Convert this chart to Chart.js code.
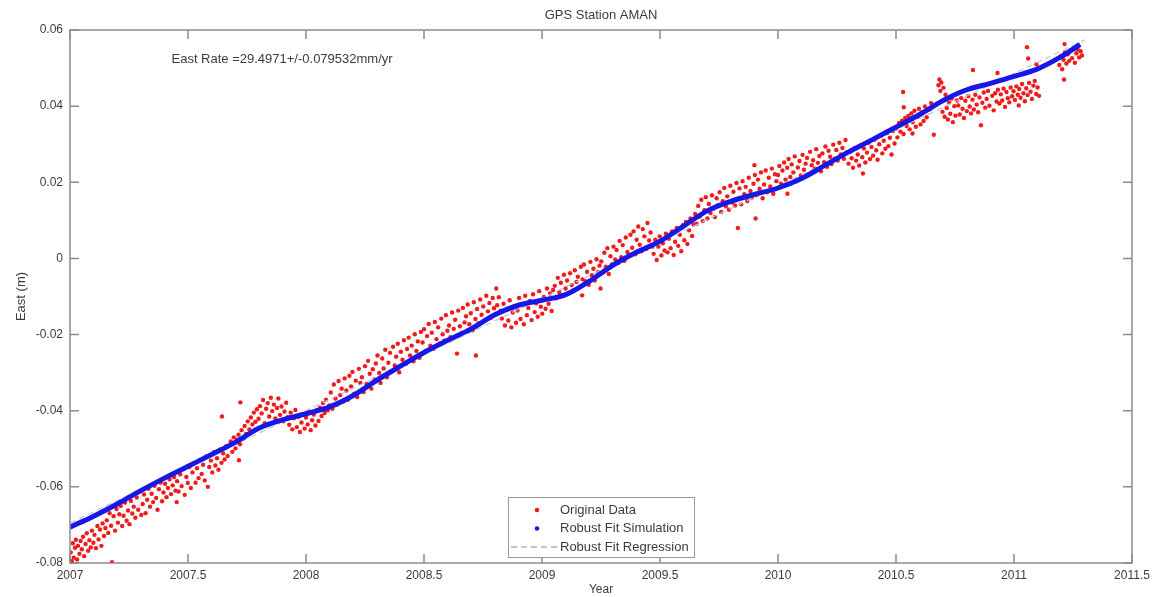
<!DOCTYPE html>
<html>
<head>
<meta charset="utf-8">
<title>GPS Station AMAN</title>
<script src="https://cdn.jsdelivr.net/npm/chart.js@4.4.1/dist/chart.umd.min.js"></script>
<style>
  html, body { margin: 0; padding: 0; background: #ffffff; }
  #wrap { width: 1152px; height: 597px; position: relative; }
</style>
</head>
<body>
<div id="wrap"><canvas id="eastChart"></canvas></div>
<script>
const chartTitle = "GPS Station AMAN";
const rateText = "East Rate =29.4971+/-0.079532mm/yr";
const seriesNames = ["Original Data", "Robust Fit Simulation", "Robust Fit Regression"];

const xTickValues = [2007, 2007.5, 2008, 2008.5, 2009, 2009.5, 2010, 2010.5, 2011, 2011.5];
const yTickValues = [-0.08, -0.06, -0.04, -0.02, 0, 0.02, 0.04, 0.06];

// observed east positions (year, metres)
const obsYear = [
  2007.003, 2007.008, 2007.012, 2007.016, 2007.021, 2007.025, 2007.030, 2007.034, 2007.040, 2007.045,
  2007.050, 2007.055, 2007.060, 2007.066, 2007.071, 2007.077, 2007.082, 2007.088, 2007.093, 2007.099,
  2007.104, 2007.110, 2007.116, 2007.121, 2007.127, 2007.133, 2007.138, 2007.144, 2007.150,

  2007.156, 2007.162, 2007.168, 2007.174, 2007.178, 2007.185, 2007.191, 2007.197, 2007.203, 2007.209,
  2007.215, 2007.221, 2007.227, 2007.233, 2007.240, 2007.246, 2007.252, 2007.258, 2007.264, 2007.270,
  2007.277, 2007.283, 2007.289, 2007.295, 2007.302, 2007.308, 2007.314, 2007.320, 2007.327, 2007.333,
  2007.339, 2007.346, 2007.352, 2007.358, 2007.365, 2007.371, 2007.377, 2007.384, 2007.390, 2007.396,
  2007.403, 2007.409, 2007.415, 2007.422, 2007.428, 2007.435, 2007.441, 2007.447, 2007.452,

  2007.454, 2007.460, 2007.467, 2007.473, 2007.480, 2007.486, 2007.493, 2007.499, 2007.506, 2007.512,
  2007.519, 2007.525, 2007.532, 2007.538, 2007.545, 2007.551, 2007.558, 2007.564, 2007.571, 2007.577,
  2007.584, 2007.590, 2007.597, 2007.603, 2007.610, 2007.616, 2007.623, 2007.629, 2007.636, 2007.642,
  2007.644, 2007.649, 2007.655, 2007.662, 2007.668, 2007.681, 2007.688, 2007.694, 2007.701, 2007.707,
  2007.714, 2007.716, 2007.720, 2007.722, 2007.727, 2007.733, 2007.740, 2007.746, 2007.753, 2007.760,
  2007.766, 2007.773, 2007.779, 2007.786, 2007.792,

  2007.799, 2007.805, 2007.812, 2007.818, 2007.825, 2007.831, 2007.838, 2007.844, 2007.851, 2007.857,
  2007.864, 2007.870, 2007.877, 2007.883, 2007.890, 2007.896, 2007.903, 2007.909, 2007.916, 2007.922,
  2007.929, 2007.935, 2007.942, 2007.948, 2007.955, 2007.961, 2007.968, 2007.974, 2007.981, 2007.987,
  2007.994, 2008.000, 2008.007, 2008.013, 2008.020, 2008.026, 2008.033, 2008.040, 2008.046, 2008.053,
  2008.059, 2008.066, 2008.072, 2008.079, 2008.085, 2008.092, 2008.098,

  2008.105, 2008.112, 2008.118, 2008.125, 2008.131, 2008.138, 2008.145, 2008.151, 2008.158, 2008.164,
  2008.171, 2008.178, 2008.184, 2008.191, 2008.197, 2008.204, 2008.211, 2008.217, 2008.224, 2008.230,
  2008.237, 2008.244, 2008.250, 2008.257, 2008.263, 2008.270, 2008.277, 2008.283, 2008.290, 2008.296,
  2008.303, 2008.310, 2008.316, 2008.323, 2008.329, 2008.336, 2008.343, 2008.349, 2008.356, 2008.362,
  2008.369, 2008.376, 2008.382, 2008.389, 2008.395, 2008.402, 2008.409, 2008.415, 2008.422, 2008.428,
  2008.435, 2008.441, 2008.448, 2008.455, 2008.461, 2008.468, 2008.474, 2008.481, 2008.487,

  2008.494, 2008.500, 2008.507, 2008.513, 2008.520, 2008.527, 2008.533, 2008.540, 2008.546, 2008.553,
  2008.560, 2008.566, 2008.573, 2008.579, 2008.586, 2008.593, 2008.599, 2008.606, 2008.612, 2008.619,
  2008.626, 2008.632, 2008.639, 2008.640, 2008.645, 2008.652, 2008.659, 2008.665, 2008.672, 2008.678,
  2008.685, 2008.692, 2008.698, 2008.705, 2008.711, 2008.718, 2008.720, 2008.725, 2008.731, 2008.738,
  2008.744, 2008.751, 2008.758, 2008.764, 2008.771, 2008.777, 2008.784, 2008.791, 2008.797, 2008.804,
  2008.806, 2008.810, 2008.817, 2008.824,

  2008.830, 2008.837, 2008.843, 2008.850, 2008.857, 2008.863, 2008.870, 2008.876, 2008.883, 2008.890,
  2008.896, 2008.903, 2008.909, 2008.916, 2008.923, 2008.929, 2008.936, 2008.942, 2008.949, 2008.956,
  2008.962, 2008.969, 2008.975, 2008.982, 2008.988, 2008.995, 2009.001, 2009.008, 2009.015, 2009.021,
  2009.028, 2009.034, 2009.041, 2009.047,

  2009.054, 2009.060, 2009.067, 2009.073, 2009.080, 2009.087, 2009.093, 2009.100, 2009.106, 2009.113,
  2009.119, 2009.126, 2009.132, 2009.139, 2009.146, 2009.152, 2009.159, 2009.165, 2009.170, 2009.172,
  2009.178, 2009.185, 2009.191, 2009.198, 2009.205, 2009.211, 2009.218, 2009.224, 2009.231, 2009.237,
  2009.244, 2009.248,

  2009.251, 2009.257, 2009.264, 2009.270, 2009.277, 2009.283, 2009.290, 2009.296, 2009.303, 2009.310,
  2009.316, 2009.323, 2009.329, 2009.336, 2009.342, 2009.349, 2009.355, 2009.362, 2009.369, 2009.375,
  2009.382, 2009.388, 2009.395, 2009.401, 2009.408, 2009.414, 2009.421, 2009.427, 2009.434, 2009.441,
  2009.447, 2009.454, 2009.460, 2009.467,

  2009.473, 2009.480, 2009.486, 2009.493, 2009.499, 2009.506, 2009.512, 2009.519, 2009.525, 2009.532,
  2009.538, 2009.545, 2009.551, 2009.558, 2009.564, 2009.571, 2009.577, 2009.584, 2009.590, 2009.597,
  2009.603, 2009.610, 2009.616, 2009.623, 2009.629, 2009.636, 2009.642, 2009.649,

  2009.655, 2009.662, 2009.668, 2009.675, 2009.681, 2009.688, 2009.694, 2009.701, 2009.707, 2009.714,
  2009.720, 2009.727, 2009.733, 2009.740, 2009.746, 2009.753, 2009.759, 2009.766, 2009.772, 2009.779,
  2009.785, 2009.792, 2009.798, 2009.805, 2009.811, 2009.818, 2009.824, 2009.830, 2009.831, 2009.837,
  2009.844, 2009.850, 2009.857, 2009.863, 2009.870, 2009.876, 2009.883, 2009.889, 2009.896, 2009.900,
  2009.902, 2009.905, 2009.909, 2009.915, 2009.922, 2009.928, 2009.935, 2009.941, 2009.948, 2009.954,
  2009.961, 2009.967, 2009.974, 2009.980, 2009.987, 2009.993,

  2010.000, 2010.006, 2010.013, 2010.019, 2010.026, 2010.032, 2010.039, 2010.040, 2010.045, 2010.052,
  2010.058, 2010.065, 2010.071, 2010.078, 2010.084, 2010.091, 2010.097, 2010.104, 2010.110, 2010.117,
  2010.123, 2010.130, 2010.136, 2010.143, 2010.149, 2010.156, 2010.162, 2010.169, 2010.175, 2010.182,
  2010.188, 2010.195, 2010.201, 2010.208, 2010.214, 2010.221, 2010.227, 2010.234, 2010.240, 2010.247,
  2010.253, 2010.260, 2010.266, 2010.273, 2010.279, 2010.286, 2010.292,

  2010.299, 2010.305, 2010.312, 2010.318, 2010.325, 2010.331, 2010.338, 2010.344, 2010.351, 2010.357,
  2010.360, 2010.364, 2010.370, 2010.377, 2010.383, 2010.390, 2010.396, 2010.403, 2010.409, 2010.416,
  2010.422, 2010.429, 2010.435, 2010.442, 2010.448, 2010.455, 2010.461, 2010.468, 2010.474, 2010.481,
  2010.487, 2010.494,

  2010.500, 2010.506, 2010.513, 2010.519, 2010.526, 2010.530, 2010.532, 2010.533, 2010.539, 2010.545,
  2010.552, 2010.558, 2010.565, 2010.570, 2010.571, 2010.578, 2010.584, 2010.591, 2010.597, 2010.604,
  2010.610, 2010.617, 2010.623, 2010.630, 2010.643, 2010.649, 2010.660,

  2010.680, 2010.684, 2010.688, 2010.692, 2010.697, 2010.701, 2010.706, 2010.710, 2010.715, 2010.720,
  2010.725, 2010.730, 2010.736, 2010.741, 2010.747, 2010.752, 2010.758,

  2010.764, 2010.770, 2010.776, 2010.782, 2010.788, 2010.794, 2010.800, 2010.806, 2010.812, 2010.818,
  2010.824, 2010.826, 2010.830, 2010.836, 2010.842, 2010.848, 2010.854, 2010.860, 2010.866, 2010.872,
  2010.878, 2010.884, 2010.890, 2010.896, 2010.908, 2010.914, 2010.920, 2010.926, 2010.930, 2010.932,
  2010.938, 2010.944, 2010.950, 2010.956, 2010.962, 2010.968, 2010.974, 2010.980, 2010.986, 2010.992,
  2010.998, 2011.004, 2011.010, 2011.016, 2011.020, 2011.022, 2011.028, 2011.034, 2011.040, 2011.046,
  2011.052, 2011.055, 2011.058, 2011.060, 2011.064, 2011.070, 2011.076, 2011.082, 2011.088, 2011.094,
  2011.095, 2011.100, 2011.106,

  2011.192, 2011.198, 2011.204, 2011.210, 2011.212, 2011.214, 2011.216, 2011.222, 2011.228, 2011.234,
  2011.240, 2011.246, 2011.252, 2011.258, 2011.264, 2011.270, 2011.276, 2011.282, 2011.288
];

const obsEast = [
  -0.0772, -0.0795, -0.0748, -0.0786, -0.0760, -0.0739, -0.0791, -0.0755, -0.0776, -0.0742,
  -0.0764, -0.0731, -0.0782, -0.0750, -0.0722, -0.0768, -0.0740, -0.0759, -0.0715, -0.0747,
  -0.0726, -0.0761, -0.0703, -0.0738, -0.0712, -0.0755, -0.0696, -0.0729, -0.0708,

  -0.0688, -0.0721, -0.0669, -0.0702, -0.0798, -0.0677, -0.0715, -0.0658, -0.0694, -0.0672,
  -0.0650, -0.0703, -0.0676, -0.0641, -0.0689, -0.0662, -0.0698, -0.0637, -0.0670, -0.0652,
  -0.0681, -0.0628, -0.0660, -0.0612, -0.0674, -0.0645, -0.0620, -0.0669, -0.0634, -0.0605,
  -0.0652, -0.0618, -0.0640, -0.0597, -0.0629, -0.0660, -0.0606, -0.0589, -0.0638, -0.0615,
  -0.0592, -0.0627, -0.0603, -0.0580, -0.0619, -0.0596, -0.0574, -0.0610, -0.0640,

  -0.0585, -0.0612, -0.0567, -0.0598, -0.0553, -0.0621, -0.0574, -0.0590, -0.0548, -0.0603,
  -0.0562, -0.0538, -0.0589, -0.0551, -0.0577, -0.0529, -0.0566, -0.0542, -0.0583, -0.0520,
  -0.0600, -0.0548, -0.0531, -0.0562, -0.0509, -0.0544, -0.0525, -0.0555, -0.0502, -0.0537,
  -0.0415, -0.0512, -0.0528, -0.0493, -0.0519, -0.0481, -0.0508, -0.0470, -0.0499, -0.0476,
  -0.0463, -0.0530, -0.0488, -0.0378, -0.0451, -0.0472, -0.0440, -0.0461, -0.0428, -0.0449,
  -0.0418, -0.0436, -0.0405, -0.0429, -0.0396,

  -0.0421, -0.0388, -0.0407, -0.0372, -0.0433, -0.0395, -0.0380, -0.0415, -0.0366, -0.0401,
  -0.0384, -0.0420, -0.0393, -0.0368, -0.0411, -0.0389, -0.0428, -0.0402, -0.0379, -0.0417,
  -0.0437, -0.0405, -0.0449, -0.0420, -0.0398, -0.0443, -0.0416, -0.0456, -0.0431, -0.0409,
  -0.0447, -0.0418, -0.0436, -0.0402, -0.0451, -0.0425, -0.0410, -0.0439, -0.0398, -0.0427,
  -0.0392, -0.0414, -0.0380, -0.0406, -0.0371, -0.0399, -0.0386,

  -0.0352, -0.0395, -0.0331, -0.0368, -0.0384, -0.0322, -0.0359, -0.0342, -0.0376, -0.0315,
  -0.0347, -0.0371, -0.0308, -0.0336, -0.0298, -0.0355, -0.0321, -0.0364, -0.0290, -0.0327,
  -0.0312, -0.0351, -0.0283, -0.0330, -0.0269, -0.0303, -0.0342, -0.0291, -0.0318, -0.0276,
  -0.0255, -0.0301, -0.0327, -0.0263, -0.0289, -0.0240, -0.0312, -0.0274, -0.0248, -0.0296,
  -0.0232, -0.0281, -0.0258, -0.0224, -0.0299, -0.0245, -0.0266, -0.0215, -0.0277, -0.0238,
  -0.0208, -0.0255, -0.0229, -0.0270, -0.0199, -0.0243, -0.0218, -0.0261, -0.0193,

  -0.0221, -0.0186, -0.0243, -0.0204, -0.0172, -0.0229, -0.0195, -0.0238, -0.0167, -0.0212,
  -0.0181, -0.0224, -0.0158, -0.0199, -0.0216, -0.0149, -0.0190, -0.0176, -0.0207, -0.0142,
  -0.0185, -0.0161, -0.0203, -0.0250, -0.0137, -0.0178, -0.0196, -0.0130, -0.0168, -0.0152,
  -0.0121, -0.0173, -0.0144, -0.0189, -0.0115, -0.0159, -0.0255, -0.0133, -0.0170, -0.0108,
  -0.0148, -0.0126, -0.0163, -0.0098, -0.0139, -0.0117, -0.0155, -0.0104, -0.0131, -0.0146,
  -0.0079, -0.0123, -0.0102, -0.0137,

  -0.0158, -0.0119, -0.0176, -0.0134, -0.0163, -0.0110, -0.0181, -0.0142, -0.0125, -0.0169,
  -0.0137, -0.0104, -0.0159, -0.0121, -0.0173, -0.0098, -0.0149, -0.0130, -0.0112, -0.0162,
  -0.0094, -0.0141, -0.0118, -0.0153, -0.0086, -0.0127, -0.0145, -0.0101, -0.0132, -0.0079,
  -0.0119, -0.0092, -0.0138, -0.0083,

  -0.0072, -0.0105, -0.0051, -0.0088, -0.0064, -0.0097, -0.0043, -0.0079, -0.0058, -0.0091,
  -0.0039, -0.0070, -0.0084, -0.0031, -0.0062, -0.0048, -0.0076, -0.0022, -0.0097, -0.0055,
  -0.0016, -0.0060, -0.0035, -0.0069, -0.0009, -0.0044, -0.0027, -0.0058, -0.0002, -0.0036,
  -0.0019, -0.0079,

  -0.0008, -0.0037, 0.0015, -0.0022, 0.0027, -0.0041, 0.0006, -0.0016, 0.0031, -0.0003,
  0.0022, -0.0012, 0.0046, 0.0003, 0.0035, -0.0006, 0.0055, 0.0017, 0.0008, 0.0062,
  0.0028, 0.0071, 0.0011, 0.0049, 0.0084, 0.0036, 0.0019, 0.0077, 0.0058, 0.0025,
  0.0093, 0.0047, 0.0068, 0.0031,

  0.0012, 0.0049, -0.0004, 0.0031, 0.0058, 0.0008, 0.0040, 0.0021, 0.0065, 0.0016,
  0.0052, 0.0027, 0.0071, 0.0009, 0.0044, 0.0080, 0.0033, 0.0062, 0.0019, 0.0087,
  0.0048, 0.0096, 0.0038, 0.0074, 0.0105, 0.0059, 0.0089, 0.0117,

  0.0091, 0.0138, 0.0110, 0.0154, 0.0098, 0.0127, 0.0161, 0.0105, 0.0143, 0.0119,
  0.0166, 0.0131, 0.0109, 0.0158, 0.0140, 0.0174, 0.0122, 0.0150, 0.0185, 0.0137,
  0.0163, 0.0128, 0.0191, 0.0147, 0.0175, 0.0139, 0.0198, 0.0080, 0.0157, 0.0184,
  0.0142, 0.0203, 0.0169, 0.0188, 0.0151, 0.0212, 0.0177, 0.0160, 0.0196, 0.0245,
  0.0219, 0.0105, 0.0166, 0.0207, 0.0183, 0.0226, 0.0158, 0.0194, 0.0231, 0.0174,
  0.0212, 0.0189, 0.0236, 0.0170, 0.0221, 0.0203,

  0.0219, 0.0243, 0.0196, 0.0231, 0.0252, 0.0207, 0.0238, 0.0170, 0.0261, 0.0214,
  0.0247, 0.0226, 0.0268, 0.0203, 0.0239, 0.0256, 0.0218, 0.0272, 0.0233, 0.0249,
  0.0264, 0.0221, 0.0280, 0.0245, 0.0258, 0.0236, 0.0287, 0.0251, 0.0269, 0.0229,
  0.0276, 0.0253, 0.0294, 0.0241, 0.0283, 0.0267, 0.0248, 0.0299, 0.0262, 0.0285,
  0.0257, 0.0304, 0.0273, 0.0290, 0.0262, 0.0311, 0.0279,

  0.0249, 0.0281, 0.0263, 0.0238, 0.0290, 0.0257, 0.0273, 0.0244, 0.0297, 0.0266,
  0.0223, 0.0289, 0.0252, 0.0278, 0.0304, 0.0261, 0.0293, 0.0270, 0.0312, 0.0284,
  0.0259, 0.0300, 0.0322, 0.0276, 0.0309, 0.0288, 0.0329, 0.0295, 0.0317, 0.0273,
  0.0335, 0.0302,

  0.0341, 0.0318, 0.0356, 0.0333, 0.0362, 0.0437, 0.0327, 0.0397, 0.0369, 0.0348,
  0.0374, 0.0339, 0.0381, 0.0328, 0.0358, 0.0388, 0.0346, 0.0372, 0.0393, 0.0352,
  0.0384, 0.0361, 0.0399, 0.0371, 0.0392, 0.0408, 0.0325,

  0.0455, 0.0470, 0.0440, 0.0462, 0.0385, 0.0448, 0.0372, 0.0430, 0.0395, 0.0365,
  0.0410, 0.0380, 0.0420, 0.0358, 0.0400, 0.0375, 0.0415,

  0.0402, 0.0378, 0.0421, 0.0393, 0.0369, 0.0414, 0.0387, 0.0426, 0.0399, 0.0381,
  0.0417, 0.0495, 0.0391, 0.0430, 0.0404, 0.0384, 0.0423, 0.0350, 0.0409, 0.0436,
  0.0396, 0.0419, 0.0440, 0.0401, 0.0427, 0.0389, 0.0434, 0.0412, 0.0487, 0.0443,
  0.0407, 0.0431, 0.0415, 0.0446, 0.0398, 0.0437, 0.0421, 0.0410, 0.0449, 0.0426,
  0.0439, 0.0416, 0.0452, 0.0430, 0.0402, 0.0445, 0.0422, 0.0458, 0.0434, 0.0413,
  0.0447, 0.0555, 0.0429, 0.0525, 0.0461, 0.0438, 0.0419, 0.0454, 0.0466, 0.0432,
  0.0510, 0.0449, 0.0427,

  0.0508, 0.0531, 0.0497, 0.0522, 0.0470, 0.0563, 0.0541, 0.0512, 0.0536, 0.0519,
  0.0547, 0.0526, 0.0553, 0.0514, 0.0539, 0.0549, 0.0528, 0.0544, 0.0533
];

// robust fit simulation curve
const fitYear = [
  2007.0, 2007.1, 2007.2, 2007.3, 2007.4, 2007.5, 2007.6, 2007.7, 2007.8, 2007.9,
  2008.0, 2008.1, 2008.2, 2008.3, 2008.4, 2008.5, 2008.6, 2008.7, 2008.8, 2008.9,
  2009.0, 2009.1, 2009.2, 2009.3, 2009.4, 2009.5, 2009.6, 2009.7, 2009.8, 2009.9,
  2010.0, 2010.1, 2010.2, 2010.3, 2010.4, 2010.5, 2010.6, 2010.7, 2010.8, 2010.9,
  2011.0, 2011.1, 2011.2, 2011.28
];
const fitEast = [
  -0.0706, -0.0677, -0.0645, -0.0610, -0.0577, -0.0546, -0.0515, -0.0483, -0.0446, -0.0424,
  -0.0408, -0.0390, -0.0360, -0.0320, -0.0283, -0.0247, -0.0215, -0.0185, -0.0148, -0.0123,
  -0.0110, -0.0095, -0.0060, -0.0018, 0.0016, 0.0045, 0.0085, 0.0125, 0.0150, 0.0168,
  0.0185, 0.0210, 0.0245, 0.0280, 0.0312, 0.0345, 0.0378, 0.0415, 0.0443, 0.0460,
  0.0478, 0.0498, 0.0530, 0.0562
];

// robust fit regression line (end points)
const regYear = [2007.0, 2011.3];
const regEast = [-0.0695, 0.0574];

const axisGray = "#8c8c8c";
const textGray = "#3c3c3c";
const obsColor = "#f01c1c";
const fitColor = "#1818e6";
const regColor = "#b9c6d8";
const fontFamily = "'Liberation Sans', Arial, Helvetica, sans-serif";

Chart.defaults.font.family = fontFamily;
Chart.defaults.font.size = 12;
Chart.defaults.color = textGray;

function formatTick(value) {
  return String(Number(value.toFixed(2)));
}

const matlabFrame = {
  id: "matlabFrame",
  afterDatasetsDraw(chart) {
    const { ctx, chartArea: area, scales } = chart;
    const tickLen = 9;

    ctx.save();

    // axes box and inward ticks
    ctx.strokeStyle = axisGray;
    ctx.lineWidth = 1.5;
    ctx.strokeRect(area.left, area.top, area.right - area.left, area.bottom - area.top);

    ctx.beginPath();
    scales.x.ticks.forEach((tick) => {
      const px = scales.x.getPixelForValue(tick.value);
      ctx.moveTo(px, area.bottom);
      ctx.lineTo(px, area.bottom - tickLen);
      ctx.moveTo(px, area.top);
      ctx.lineTo(px, area.top + tickLen);
    });
    scales.y.ticks.forEach((tick) => {
      const py = scales.y.getPixelForValue(tick.value);
      ctx.moveTo(area.left, py);
      ctx.lineTo(area.left + tickLen, py);
      ctx.moveTo(area.right, py);
      ctx.lineTo(area.right - tickLen, py);
    });
    ctx.stroke();

    // title
    ctx.fillStyle = textGray;
    ctx.font = "13px " + fontFamily;
    ctx.textAlign = "center";
    ctx.textBaseline = "middle";
    ctx.fillText(chartTitle, (area.left + area.right) / 2, 15);

    // rate annotation
    ctx.textAlign = "left";
    ctx.fillText(rateText, scales.x.getPixelForValue(2007.43), area.top + 29);

    // legend box
    const boxW = 186;
    const boxH = 60;
    const boxX = (area.left + area.right) / 2 - boxW / 2;
    const boxY = area.bottom - 6 - boxH;
    ctx.fillStyle = "#ffffff";
    ctx.fillRect(boxX, boxY, boxW, boxH);
    ctx.strokeStyle = "#9a9a9a";
    ctx.lineWidth = 1;
    ctx.strokeRect(boxX + 0.5, boxY + 0.5, boxW, boxH);

    const rows = [boxY + 13, boxY + 31.5, boxY + 50];
    const markX = boxX + 29;
    const textX = boxX + 52;

    ctx.fillStyle = obsColor;
    ctx.beginPath();
    ctx.arc(markX, rows[0], 2.3, 0, Math.PI * 2);
    ctx.fill();

    ctx.fillStyle = fitColor;
    ctx.beginPath();
    ctx.arc(markX, rows[1], 2.3, 0, Math.PI * 2);
    ctx.fill();

    ctx.strokeStyle = "#8c8c8c";
    ctx.lineWidth = 1.2;
    ctx.setLineDash([6, 4]);
    ctx.beginPath();
    ctx.moveTo(boxX + 3, rows[2]);
    ctx.lineTo(boxX + 50, rows[2]);
    ctx.stroke();
    ctx.setLineDash([]);

    ctx.fillStyle = textGray;
    ctx.font = "13px " + fontFamily;
    ctx.textAlign = "left";
    seriesNames.forEach((name, i) => {
      ctx.fillText(name, textX, rows[i]);
    });

    ctx.restore();
  },
};

const canvas = document.getElementById("eastChart");

new Chart(canvas, {
  type: "scatter",
  data: {
    datasets: [
      {
        label: seriesNames[0],
        data: obsYear.map((year, i) => ({ x: year, y: obsEast[i] })),
        backgroundColor: obsColor,
        borderWidth: 0,
        pointRadius: 2.2,
        order: 3,
      },
      {
        label: seriesNames[2],
        type: "line",
        data: regYear.map((year, i) => ({ x: year, y: regEast[i] })),
        borderColor: regColor,
        borderWidth: 1.2,
        borderDash: [6, 4],
        pointRadius: 0,
        fill: false,
        order: 2,
      },
      {
        label: seriesNames[1],
        type: "line",
        data: fitYear.map((year, i) => ({ x: year, y: fitEast[i] })),
        borderColor: fitColor,
        borderWidth: 5,
        pointRadius: 0,
        fill: false,
        cubicInterpolationMode: "monotone",
        order: 1,
      },
    ],
  },
  options: {
    responsive: true,
    maintainAspectRatio: false,
    animation: false,
    layout: {
      padding: { top: 30, right: 20, bottom: 0, left: 0 },
    },
    plugins: {
      legend: { display: false },
      tooltip: { enabled: false },
    },
    scales: {
      x: {
        type: "linear",
        min: 2007,
        max: 2011.5,
        grid: { display: false, drawTicks: false },
        border: { display: false },
        afterBuildTicks: (scale) => {
          scale.ticks = xTickValues.map((value) => ({ value }));
        },
        afterFit: (scale) => {
          scale.height = 34;
          scale.paddingLeft = 0;
          scale.paddingRight = 0;
        },
        ticks: {
          padding: 5,
          maxRotation: 0,
          autoSkip: false,
          color: textGray,
          font: { size: 12 },
          callback: (value) => String(value),
        },
        title: {
          display: true,
          text: "Year",
          color: textGray,
          font: { size: 12 },
          padding: { top: 0, bottom: 0 },
        },
      },
      y: {
        type: "linear",
        min: -0.08,
        max: 0.06,
        grid: { display: false, drawTicks: false },
        border: { display: false },
        afterBuildTicks: (scale) => {
          scale.ticks = yTickValues.map((value) => ({ value }));
        },
        afterFit: (scale) => {
          scale.width = 70;
          scale.paddingTop = 0;
          scale.paddingBottom = 0;
        },
        ticks: {
          padding: 7,
          autoSkip: false,
          color: textGray,
          font: { size: 12 },
          callback: (value) => formatTick(value),
        },
        title: {
          display: true,
          text: "East (m)",
          color: textGray,
          font: { size: 13 },
          padding: { top: 14, bottom: 0 },
        },
      },
    },
  },
  plugins: [matlabFrame],
});
</script>
</body>
</html>
